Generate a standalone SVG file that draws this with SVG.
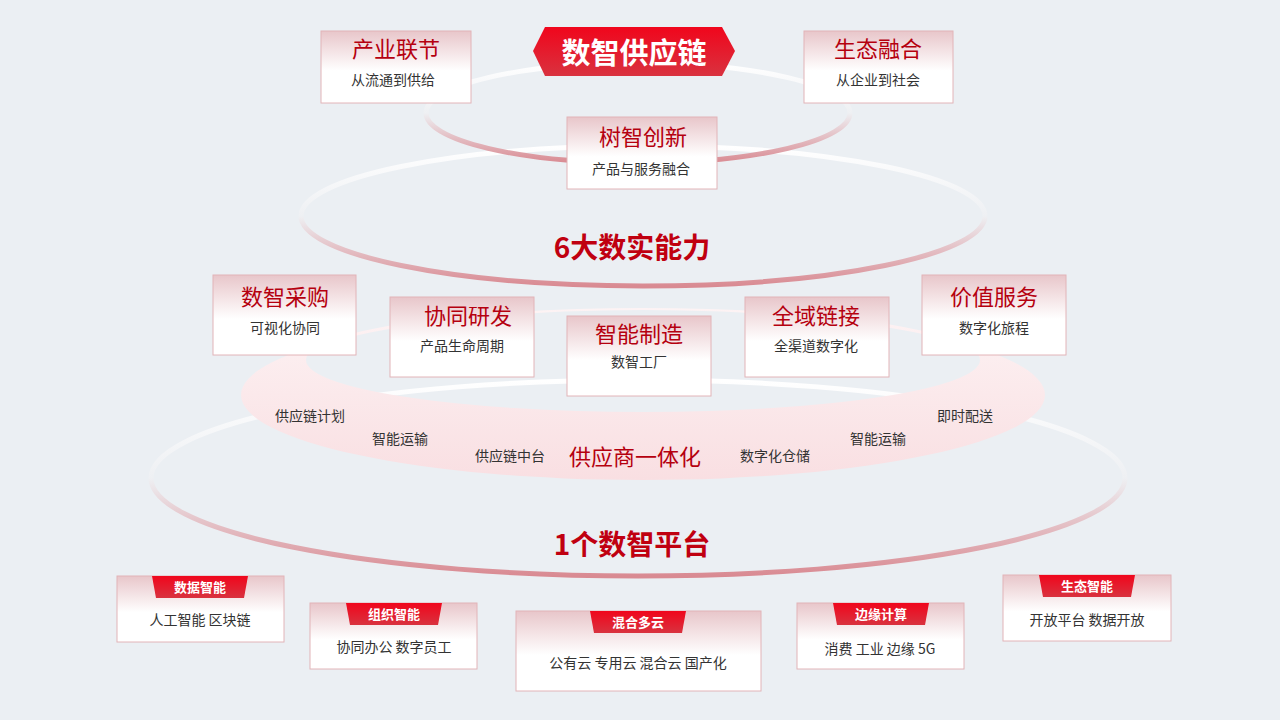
<svg xmlns="http://www.w3.org/2000/svg" width="1280" height="720" viewBox="0 0 1280 720">
<defs>
<linearGradient id="ring" x1="0" y1="0" x2="0" y2="1"><stop offset="0" stop-color="#ffffff"/><stop offset="0.5" stop-color="#eef0f3"/><stop offset="1" stop-color="#d98a92"/></linearGradient>
<linearGradient id="card" x1="0" y1="0" x2="0" y2="1"><stop offset="0" stop-color="#e8c6ca"/><stop offset="0.55" stop-color="#ffffff"/><stop offset="1" stop-color="#ffffff"/></linearGradient>
<linearGradient id="tab" x1="0" y1="0" x2="0" y2="1"><stop offset="0" stop-color="#f0061c"/><stop offset="1" stop-color="#d9323f"/></linearGradient>
<linearGradient id="band" x1="0" y1="0" x2="0" y2="1"><stop offset="0" stop-color="#fdf3f4"/><stop offset="1" stop-color="#f9dfe2"/></linearGradient>
</defs>
<style>
.c{fill:url(#card);stroke:#e2b4b8;stroke-width:1}
.t{font-family:"Noto Sans CJK SC",sans-serif;font-size:22px;fill:#b5000f;text-anchor:middle}
.s{font-family:"Noto Sans CJK SC",sans-serif;font-size:14px;fill:#333;text-anchor:middle}
.h{font-family:"Noto Sans CJK SC",sans-serif;font-size:28px;font-weight:bold;fill:#c00010;text-anchor:middle}
.tb{font-family:"Noto Sans CJK SC",sans-serif;font-size:13px;font-weight:bold;fill:#fff;text-anchor:middle}
.r{fill:none;stroke:url(#ring);stroke-width:5}
</style>
<rect width="1280" height="720" fill="#ebeff3"/>
<g id="rings">
<ellipse class="r" cx="638" cy="478" rx="487" ry="98"/>
<path d="M241,395 A402,85 0 1,1 1045,395 A402,85 0 1,1 241,395 Z M306,360 A337,52 0 1,0 980,360 A337,52 0 1,0 306,360 Z" fill="url(#band)" fill-rule="evenodd"/>
<ellipse class="r" cx="643" cy="216" rx="342" ry="70"/>
<ellipse class="r" cx="638" cy="113" rx="212" ry="50"/>
</g>
<g id="title">
<polygon points="545,27 722,27 735,51 722,76 545,76 533,51" fill="url(#tab)"/>
<text x="634" y="64" font-family="Noto Sans CJK SC,sans-serif" font-size="29" font-weight="bold" fill="#fff" text-anchor="middle">数智供应链</text>
</g>
<g id="n1"><rect class="c" x="321" y="31" width="150" height="72"/><text class="t" x="396" y="57">产业联节</text><text class="s" x="393" y="85">从流通到供给</text></g>
<g id="n2"><rect class="c" x="804" y="31" width="149" height="72"/><text class="t" x="878" y="57">生态融合</text><text class="s" x="878" y="85">从企业到社会</text></g>
<g id="n3"><rect class="c" x="567" y="117" width="150" height="72"/><text class="t" x="643" y="145">树智创新</text><text class="s" x="641" y="174">产品与服务融合</text></g>
<text class="h" x="632" y="258">6大数实能力</text>
<g id="n4"><rect class="c" x="213" y="275" width="143" height="80"/><text class="t" x="285" y="305">数智采购</text><text class="s" x="285" y="333">可视化协同</text></g>
<g id="n5"><rect class="c" x="390" y="297" width="144" height="80"/><text class="t" x="468" y="324">协同研发</text><text class="s" x="462" y="351">产品生命周期</text></g>
<g id="n6"><rect class="c" x="567" y="316" width="144" height="80"/><text class="t" x="639" y="342">智能制造</text><text class="s" x="639" y="367">数智工厂</text></g>
<g id="n7"><rect class="c" x="745" y="297" width="144" height="80"/><text class="t" x="816" y="324">全域链接</text><text class="s" x="816" y="351">全渠道数字化</text></g>
<g id="n8"><rect class="c" x="922" y="275" width="144" height="80"/><text class="t" x="994" y="305">价值服务</text><text class="s" x="994" y="333">数字化旅程</text></g>
<g id="band-labels">
<text class="s" x="310" y="421">供应链计划</text>
<text class="s" x="400" y="444">智能运输</text>
<text class="s" x="510" y="461">供应链中台</text>
<text class="t" x="635" y="465">供应商一体化</text>
<text class="s" x="775" y="461">数字化仓储</text>
<text class="s" x="878" y="444">智能运输</text>
<text class="s" x="965" y="421">即时配送</text>
</g>
<text class="h" x="632" y="555">1个数智平台</text>
<g id="b1"><rect class="c" x="117" y="576" width="167" height="66"/><polygon points="152,576 248,576 244,598 156,598" fill="url(#tab)"/><text class="tb" x="200" y="592">数据智能</text><text class="s" x="200" y="625">人工智能  区块链</text></g>
<g id="b2"><rect class="c" x="310" y="603" width="167" height="66"/><polygon points="346,603 442,603 438,625 350,625" fill="url(#tab)"/><text class="tb" x="394" y="619">组织智能</text><text class="s" x="394" y="652">协同办公 数字员工</text></g>
<g id="b3"><rect class="c" x="516" y="611" width="245" height="80"/><polygon points="590,611 686,611 682,633 594,633" fill="url(#tab)"/><text class="tb" x="638" y="627">混合多云</text><text class="s" x="638" y="668">公有云 专用云 混合云 国产化</text></g>
<g id="b4"><rect class="c" x="797" y="603" width="167" height="66"/><polygon points="833,603 929,603 925,625 837,625" fill="url(#tab)"/><text class="tb" x="881" y="619">边缘计算</text><text class="s" x="880" y="654">消费 工业 边缘 5G</text></g>
<g id="b5"><rect class="c" x="1003" y="575" width="168" height="66"/><polygon points="1039,575 1135,575 1131,597 1043,597" fill="url(#tab)"/><text class="tb" x="1087" y="591">生态智能</text><text class="s" x="1087" y="625">开放平台 数据开放</text></g>
<g id="connectors"/>
</svg>
